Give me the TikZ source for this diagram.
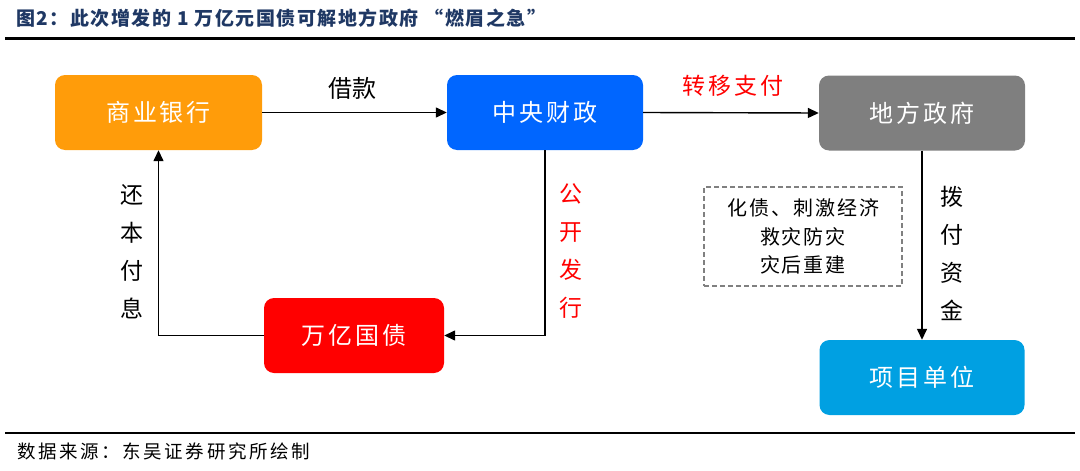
\documentclass[tikz,border=0pt]{standalone}
\usepackage{fontspec}
\setmainfont{Noto Sans CJK SC}
\usetikzlibrary{arrows.meta}
\definecolor{titleblue}{HTML}{1F3864}
\definecolor{cOrange}{HTML}{FF9C0A}
\definecolor{cBlue}{HTML}{0066FF}
\definecolor{cGray}{HTML}{7F7F7F}
\definecolor{cRed}{HTML}{FF0000}
\definecolor{cCyan}{HTML}{00A0E2}
\definecolor{cDash}{HTML}{808080}
\tikzset{
  box/.style={rectangle, rounded corners=10pt, minimum width=#1, minimum height=75pt,
    inner sep=0pt, text=white, font=\fontsize{24}{24}\selectfont\addfontfeature{LetterSpace=12}},
  arr/.style={draw=black, line width=1.4pt, -{Triangle[length=11pt,width=10pt]}},
  lbl/.style={font=\fontsize{24}{24}\selectfont, inner sep=0pt},
  vlbl/.style={font=\fontsize{23}{38}\selectfont, align=center, inner sep=0pt},
}
\begin{document}
\begin{tikzpicture}[x=1pt,y=-1pt]
\useasboundingbox (0,0) rectangle (1080,471);
% title and rules
\node[anchor=west, inner sep=0pt, text=titleblue, font=\fontsize{19}{19}\selectfont\bfseries\addfontfeature{LetterSpace=8}] (title) at (16,18) {图2：此次增发的 1 万亿元国债可解地方政府 “燃眉之急”};
\coordinate (tl) at (5,38.5);
\coordinate (tr) at (1075,38.5);
\draw[line width=2.8pt] (tl) -- (tr);
\coordinate (bl) at (5,433);
\coordinate (br) at (1075,433);
\draw[line width=2.6pt] (bl) -- (br);
\node[anchor=west, inner sep=0pt, font=\fontsize{18.5}{18.5}\selectfont\addfontfeature{LetterSpace=14}] (src) at (17,451) {数据来源：东吴证券研究所绘制};
% boxes
\node[box=207pt, fill=cOrange] (bank) at (158.5,112.5) {商业银行};
\node[box=196pt, fill=cBlue] (central) at (545,112.5) {中央财政};
\node[box=206pt, fill=cGray] (local) at (922,113) {地方政府};
\node[box=180pt, fill=cRed] (bonds) at (354,335.5) {万亿国债};
\node[box=205pt, fill=cCyan] (proj) at (922,377.5) {项目单位};
\node[draw=cDash, dashed, dash pattern=on 5pt off 3pt, line width=1.2pt, minimum width=198pt, minimum height=99pt,
  inner sep=0pt, align=center, font=\fontsize{20}{28.5}\selectfont\addfontfeature{LetterSpace=10}] (goal) at (803,236.5) {化债、刺激经济\\救灾防灾\\灾后重建};
% connectors
\draw[arr] (bank.east) -- (central.west);
\draw[arr] (central.east) -- (local.west);
\draw[arr] (local.south) -- (proj.north);
\draw[arr] (central.south) |- (bonds.east);
\draw[arr] (bonds.west) -| (bank.south);
% labels
\node[lbl] (l1) at (352,88) {借款};
\node[lbl, text=cRed, font=\fontsize{23}{23}\selectfont\addfontfeature{LetterSpace=12}] (l2) at (733,86) {转移支付};
\node[vlbl] (l3) at (132,252) {还\\本\\付\\息};
\node[vlbl, text=cRed] (l4) at (571,251) {公\\开\\发\\行};
\node[vlbl] (l5) at (952,253) {拨\\付\\资\\金};
\end{tikzpicture}
\end{document}
